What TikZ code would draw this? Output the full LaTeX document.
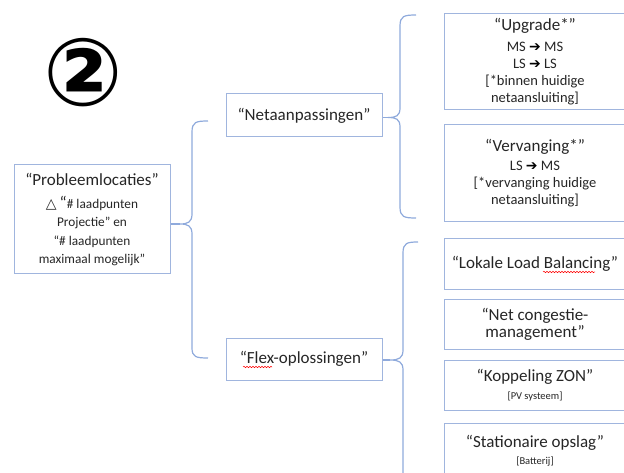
\documentclass[tikz,border=0pt]{standalone}
\usepackage{fontspec}
\setmainfont{Carlito}
\newfontfamily\symfont{DejaVu Sans}
\usetikzlibrary{decorations.pathmorphing}
\definecolor{boxblue}{RGB}{160,181,222}
\definecolor{braceblue}{RGB}{143,170,220}
\definecolor{txtgray}{RGB}{38,38,38}
\newcommand{\titlefont}{\fontsize{17}{17}\selectfont}
\newcommand{\smallfont}{\fontsize{13.3}{18.3}\selectfont}
\newcommand{\midfont}{\fontsize{14.5}{17}\selectfont}
\newcommand{\tinyfont}{\fontsize{10.5}{17.5}\selectfont}
\newcommand{\thickarr}{{\symfont\bfseries\fontsize{14}{14}\selectfont\color{black}➔}}

\begin{document}
\begin{tikzpicture}[x=1pt, y=-1pt,
  box/.style={draw=boxblue, line width=1pt, fill=white, align=center,
    inner sep=0pt, text=txtgray},
  brace/.style={draw=braceblue, line width=1.2pt},
  spell/.style={draw=red, line width=0.5pt,
    decorate, decoration={snake, amplitude=0.7pt, segment length=3pt}}]
\useasboundingbox (0,0) rectangle (624,473);
\clip (0,0) rectangle (624,473);
%%number
\node[text=black] (nr) at (83,73) {\symfont\bfseries\fontsize{94}{94}\selectfont ②};
%%root
\node[box, minimum width=156, minimum height=109, font=\smallfont] (prob) at (92,219.5)
  {{\titlefont “Probleemlocaties”}\\[5pt]
   {\symfont\fontsize{14}{14}\selectfont △} {\titlefont “}\# laadpunten\\
   Projectie” en\\ “\# laadpunten\\ maximaal mogelijk”};
%left brace
\coordinate (tipL) at (180,224);
\draw[brace] (208,121) .. controls (196,121) and (192,122) .. (192,132)
  -- (192,214) .. controls (192,222) and (188,224) .. (tipL)
  .. controls (188,224) and (192,226) .. (192,234)
  -- (192,348) .. controls (192,357) and (196,358) .. (208,358);
\draw[brace] (tipL) -- (tipL -| prob.east);
%%branches
\node[box, minimum width=156, minimum height=43, font=\titlefont] (net) at (304,115.5)
  {“Netaanpassingen”};
\node[box, minimum width=156, minimum height=42, font=\titlefont] (flex) at (304,359)
  {“Flex-oplossingen”};
\draw[spell] (243,367) -- (272,367);
%upper right brace
\coordinate (tipN) at (388,117.5);
\draw[brace] (416,15) .. controls (404,15) and (400,16) .. (400,26)
  -- (400,108) .. controls (400,116) and (396,117.5) .. (tipN)
  .. controls (396,117.5) and (400,119) .. (400,127)
  -- (400,207) .. controls (400,217) and (404,218) .. (416,218);
\draw[brace] (tipN) -- (tipN -| net.east);
%lower right brace
\coordinate (tipF) at (390,360);
\draw[brace] (418,242) .. controls (407,242) and (403,243) .. (403,253)
  -- (403,350) .. controls (403,358) and (399,360) .. (tipF)
  .. controls (399,360) and (403,362) .. (403,370)
  -- (403,480);
\draw[brace] (tipF) -- (tipF -| flex.east);
%%net options
\node[box, minimum width=182, minimum height=96, font=\midfont] (upg) at (535,62)
  {{\titlefont “Upgrade*”}\\[4pt]
   MS \thickarr{} MS\\ LS \thickarr{} LS\\
   {}[*binnen huidige\\ netaansluiting]};
\node[box, minimum width=182, minimum height=97, font=\midfont] (verv) at (535,173.5)
  {{\titlefont “Vervanging*”}\\[2pt]
   LS \thickarr{} MS\\
   {}[*vervanging huidige\\ netaansluiting]};
%%flex options
\node[box, minimum width=182, minimum height=50, font=\titlefont] (lok) at (535,264)
  {“Lokale Load Balancing”};
\draw[spell] (543,272) -- (595,272);
\node[box, minimum width=182, minimum height=50, font=\titlefont] (cong) at (535,324)
  {“Net congestie-\\ management”};
\node[box, minimum width=182, minimum height=50, font=\tinyfont] (zon) at (535,385)
  {{\titlefont “Koppeling ZON”}\\ {}[PV systeem]};
\node[box, minimum width=182, minimum height=56, font=\tinyfont] (bat) at (535,451)
  {{\titlefont “Stationaire opslag”}\\ {}[Batterij]};
\end{tikzpicture}
\end{document}
